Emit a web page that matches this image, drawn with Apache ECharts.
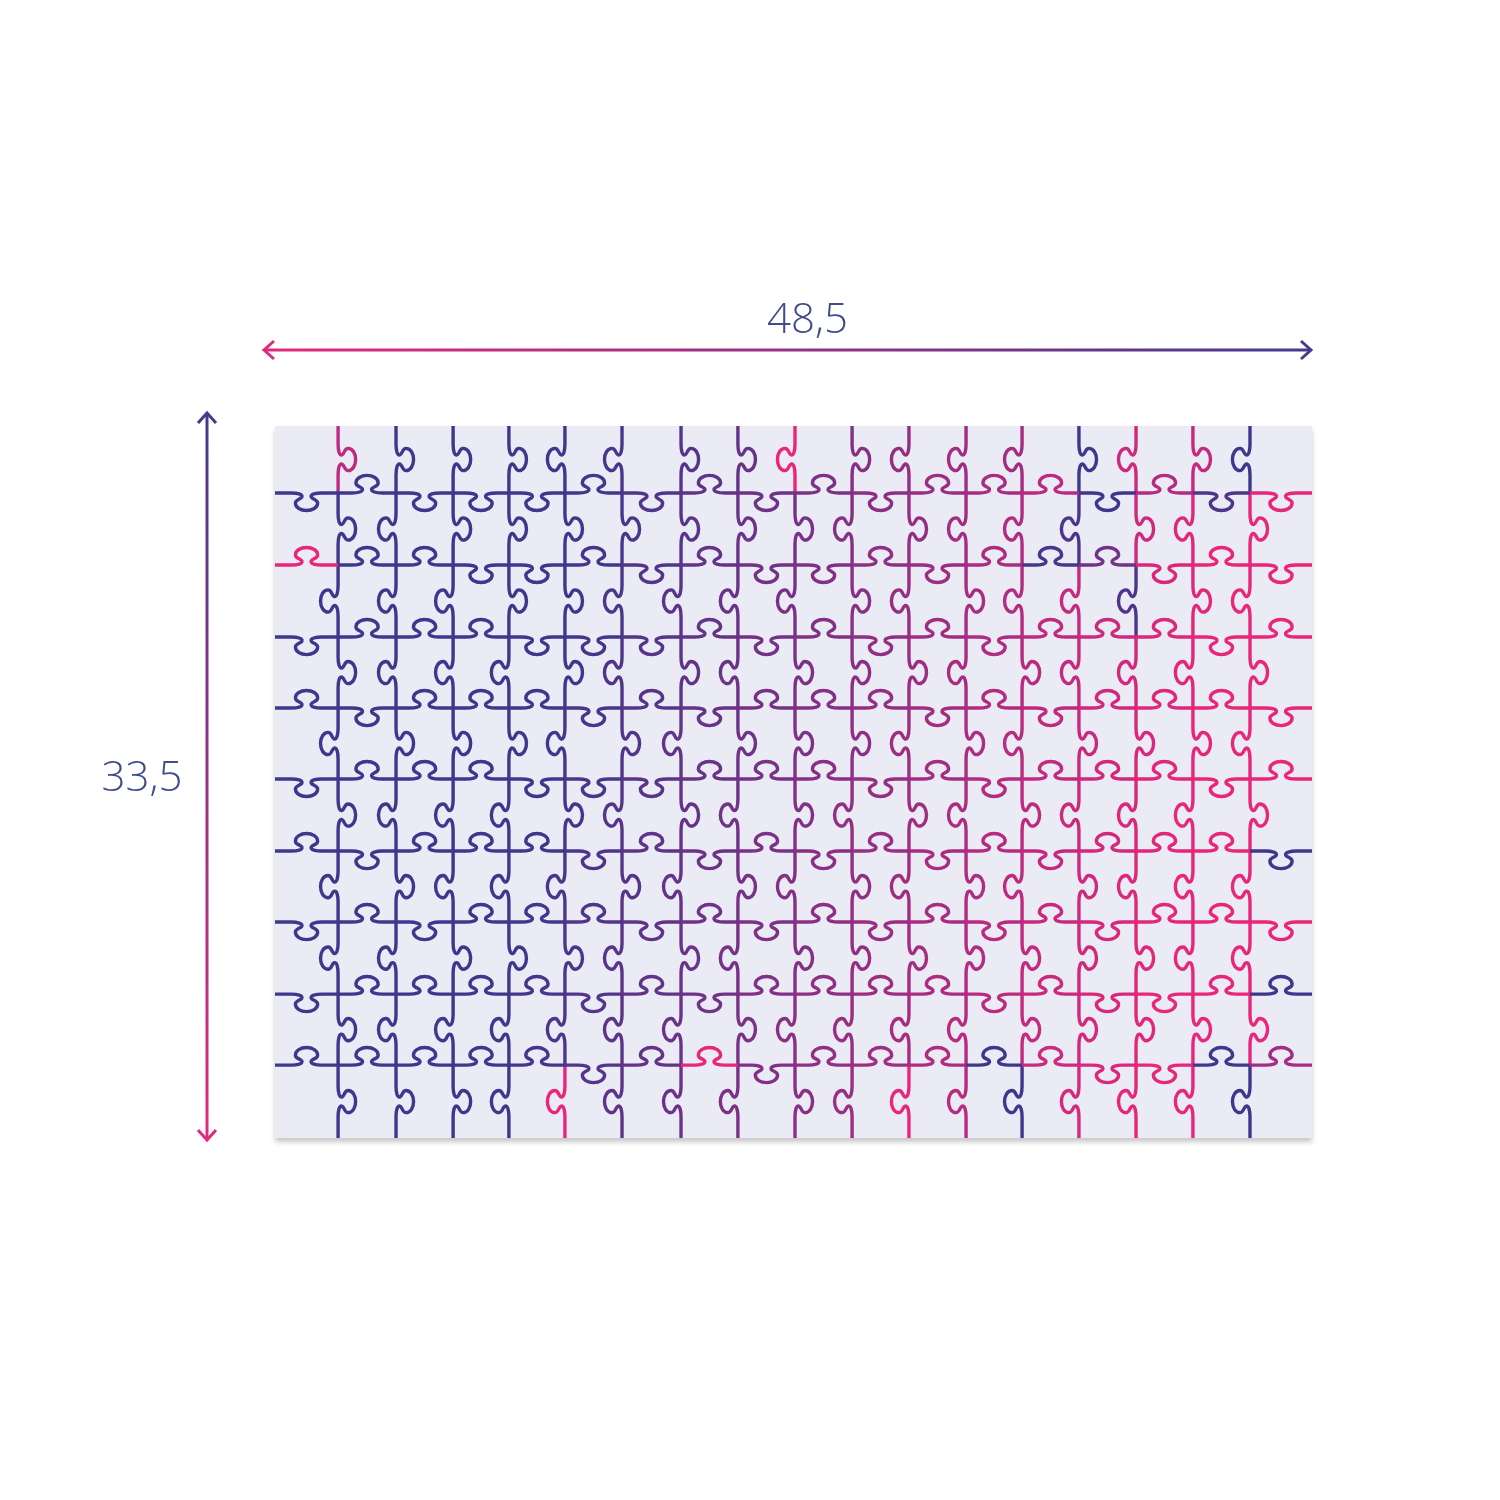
<!DOCTYPE html>
<html>
<head>
<meta charset="utf-8">
<title>Puzzle 48,5 × 33,5</title>
<script src="https://cdn.jsdelivr.net/npm/echarts@6/dist/echarts.min.js"></script>
<style>
  html, body { margin: 0; padding: 0; background: #ffffff; }
  #chart { width: 1500px; height: 1500px; }
</style>
</head>
<body>
<div id="chart"></div>
<script>
// ---------------- data ----------------
const WIDTH_CM = 48.5;
const HEIGHT_CM = 33.5;
const widthLabel = '48,5';
const heightLabel = '33,5';
const COLS = 18;
const ROWS = 10;

// positions of the cuts (cm from the left / top edge)
const xCuts = [2.95, 5.66, 8.33, 10.94, 13.56, 16.23, 18.99, 21.65, 24.32, 26.99, 29.65, 32.32, 34.94, 37.60, 40.27, 42.93, 45.60];
const yCuts = [3.15, 6.54, 9.93, 13.27, 16.61, 20.00, 23.34, 26.73, 30.07];

// vertical edges: one row per puzzle row, one value per vertical cut (+1 tab to the right, -1 to the left)
const vKnobs = [
  [ 1, 1, 1, 1,-1,-1, 1, 1,-1, 1,-1,-1,-1, 1,-1, 1,-1],
  [ 1,-1, 1, 1, 1, 1, 1, 1, 1,-1, 1,-1,-1,-1, 1,-1, 1],
  [-1,-1,-1, 1, 1,-1,-1,-1,-1, 1,-1, 1,-1,-1,-1, 1,-1],
  [ 1,-1,-1,-1, 1,-1, 1,-1, 1, 1, 1,-1, 1,-1,-1,-1, 1],
  [-1, 1, 1, 1,-1, 1,-1, 1, 1, 1,-1, 1,-1, 1, 1, 1,-1],
  [ 1,-1,-1,-1, 1,-1, 1,-1, 1,-1, 1,-1, 1,-1,-1,-1, 1],
  [-1, 1,-1,-1,-1, 1,-1, 1,-1, 1,-1, 1,-1, 1,-1,-1,-1],
  [-1,-1, 1, 1, 1,-1, 1,-1, 1, 1, 1, 1, 1, 1, 1,-1,-1],
  [ 1,-1,-1,-1,-1,-1,-1, 1,-1,-1,-1,-1, 1, 1, 1, 1, 1],
  [ 1, 1, 1,-1,-1,-1,-1,-1, 1,-1,-1,-1,-1,-1,-1,-1,-1]
];

// horizontal edges: one row per horizontal cut, one value per column (+1 tab down, -1 up)
const hKnobs = [
  [ 1,-1, 1, 1, 1,-1, 1,-1, 1,-1, 1,-1,-1,-1, 1,-1, 1, 1],
  [-1,-1,-1, 1, 1,-1, 1,-1, 1, 1,-1, 1,-1,-1,-1, 1,-1, 1],
  [ 1,-1,-1,-1, 1, 1, 1,-1, 1,-1, 1,-1, 1,-1,-1,-1, 1,-1],
  [-1, 1,-1,-1,-1, 1,-1, 1,-1,-1,-1, 1,-1, 1,-1,-1,-1, 1],
  [ 1,-1,-1,-1, 1, 1, 1,-1,-1,-1, 1,-1, 1,-1,-1,-1, 1,-1],
  [-1, 1,-1,-1,-1, 1,-1, 1,-1, 1,-1, 1,-1, 1,-1,-1,-1, 1],
  [ 1,-1, 1,-1,-1,-1, 1,-1, 1,-1, 1,-1, 1,-1, 1,-1,-1, 1],
  [ 1,-1,-1,-1,-1, 1,-1, 1,-1,-1,-1,-1, 1,-1, 1, 1,-1,-1],
  [-1,-1,-1,-1,-1, 1,-1,-1, 1,-1,-1,-1,-1,-1, 1, 1,-1,-1]
];

// edges whose colour departs from the blue→pink drift: [kind, row/line, index, mix 0=blue..1=pink]
const accents = [
  ['v', 0, 1, 0.75], ['v', 0, 9, 1], ['v', 0, 13, 0.6], ['v', 0, 14, 0], ['v', 0, 16, 0.8], ['v', 0, 17, 0],
  ['v', 1, 14, 0.1], ['v', 1, 17, 1], ['v', 2, 15, 0.1],
  ['v', 9, 5, 1], ['v', 9, 11, 1], ['v', 9, 13, 0], ['v', 9, 17, 0],
  ['h', 2, 0, 1], ['h', 1, 14, 0], ['h', 1, 15, 0.7], ['h', 1, 16, 0.1],
  ['h', 2, 13, 0.05], ['h', 2, 14, 0.3],
  ['h', 6, 17, 0], ['h', 8, 17, 0],
  ['h', 9, 7, 1], ['h', 9, 12, 0], ['h', 9, 16, 0], ['h', 9, 17, 0.6]
];

// ---------------- build series data ----------------
const xEdges = [0].concat(xCuts, [WIDTH_CM]);
const yEdges = [0].concat(yCuts, [HEIGHT_CM]);
function accentFor(kind, a, b) {
  for (const ac of accents) if (ac[0] === kind && ac[1] === a && ac[2] === b) return ac[3];
  return -1;
}
const edgeData = [];
for (let i = 0; i < ROWS; i++) {
  for (let j = 1; j < COLS; j++) {
    edgeData.push([0, xCuts[j - 1], yEdges[i], yEdges[i + 1], vKnobs[i][j - 1], accentFor('v', i, j)]);
  }
}
for (let k = 1; k < ROWS; k++) {
  for (let c = 0; c < COLS; c++) {
    edgeData.push([1, yCuts[k - 1], xEdges[c], xEdges[c + 1], hKnobs[k - 1][c], accentFor('h', k, c)]);
  }
}
const dimData = [[0, WIDTH_CM], [1, HEIGHT_CM]];

// ---------------- helpers ----------------
const BLUE = [62, 55, 140];
const PINK = [232, 38, 122];
function mix(t) {
  t = Math.max(0, Math.min(1, t));
  const c = BLUE.map((b, i) => Math.round(b + (PINK[i] - b) * t));
  return 'rgb(' + c.join(',') + ')';
}
// knob outline in local coords (a along edge, b outward), pixels
const KS = 1.17;
const KNOB = [
  ['M', -13, 0],
  ['C', -8, 0, -3, 1, -4, 3.5],
  ['C', -5, 5.5, -9.5, 5.5, -9.5, 8.5],
  ['C', -9.5, 12.5, -5, 15, 0, 15],
  ['C', 5, 15, 9.5, 12.5, 9.5, 8.5],
  ['C', 9.5, 5.5, 5, 5.5, 4, 3.5],
  ['C', 3, 1, 8, 0, 13, 0]
];

function renderEdge(params, api) {
  const kind = api.value(0), a = api.value(1), b0 = api.value(2), b1 = api.value(3);
  const dir = api.value(4), acc = api.value(5);
  let p0, p1;
  if (kind === 0) { p0 = api.coord([a, b0]); p1 = api.coord([a, b1]); }
  else { p0 = api.coord([b0, a]); p1 = api.coord([b1, a]); }
  const dx = p1[0] - p0[0], dy = p1[1] - p0[1];
  const L = Math.sqrt(dx * dx + dy * dy);
  const ux = dx / L, uy = dy / L;
  let nx, ny;
  if (kind === 0) { nx = dir; ny = 0; } else { nx = 0; ny = dir; }
  const mx = (p0[0] + p1[0]) / 2, my = (p0[1] + p1[1]) / 2;
  const P = (la, lb) => (mx + ux * la * KS + nx * lb * KS).toFixed(2) + ' ' + (my + uy * la * KS + ny * lb * KS).toFixed(2);
  let d = 'M' + p0[0].toFixed(2) + ' ' + p0[1].toFixed(2);
  for (const seg of KNOB) {
    if (seg[0] === 'M') d += ' L' + P(seg[1], seg[2]);
    else d += ' C' + P(seg[1], seg[2]) + ' ' + P(seg[3], seg[4]) + ' ' + P(seg[5], seg[6]);
  }
  d += ' L' + p1[0].toFixed(2) + ' ' + p1[1].toFixed(2);

  let t = acc;
  if (t < 0) {
    const g0 = api.coord([0, 0]), g1 = api.coord([WIDTH_CM, HEIGHT_CM]);
    const fx = (mx - g0[0]) / (g1[0] - g0[0]);
    const fy = (my - g0[1]) / (g1[1] - g0[1]);
    t = (fx - 0.275) * 1.6 + fy * 0.15 - 0.05;
  }
  return {
    type: 'path',
    silent: true,
    shape: { pathData: d },
    style: { stroke: mix(t), fill: 'none', lineWidth: 3.4, lineJoin: 'round', lineCap: 'butt' }
  };
}

const LABEL_COLOR = '#414c8c';
const ARROW_BLUE = 'rgb(70,58,140)';
const ARROW_PINK = 'rgb(226,42,124)';

function renderDim(params, api) {
  const kind = api.value(0), val = api.value(1);
  const g0 = api.coord([0, 0]);
  const children = [];
  if (kind === 0) {
    const p1 = api.coord([val, 0]);
    const y = g0[1] - 76, x0 = g0[0] - 11, x1 = p1[0] - 1;
    const grad = new echarts.graphic.LinearGradient(x0, y, x1, y, [
      { offset: 0, color: ARROW_PINK }, { offset: 1, color: ARROW_BLUE }], true);
    children.push({ type: 'line', shape: { x1: x0, y1: y, x2: x1, y2: y }, style: { stroke: grad, lineWidth: 3 } });
    children.push({ type: 'polyline', shape: { points: [[x0 + 10, y - 9], [x0, y], [x0 + 10, y + 9]] }, style: { stroke: ARROW_PINK, fill: 'none', lineWidth: 3, lineJoin: 'miter' } });
    children.push({ type: 'polyline', shape: { points: [[x1 - 10, y - 9], [x1, y], [x1 - 10, y + 9]] }, style: { stroke: ARROW_BLUE, fill: 'none', lineWidth: 3, lineJoin: 'miter' } });
    children.push({ type: 'text', style: { text: widthLabel, x: (x0 + x1) / 2 + 20, y: y - 29, fill: LABEL_COLOR,
      font: '300 42px "Open Sans"', textAlign: 'center', textVerticalAlign: 'middle', align: 'center', verticalAlign: 'middle' } });
  } else {
    const p1 = api.coord([0, val]);
    const x = g0[0] - 68, y0 = g0[1] - 13, y1 = p1[1] + 2;
    const grad = new echarts.graphic.LinearGradient(x, y0, x, y1, [
      { offset: 0, color: ARROW_BLUE }, { offset: 1, color: ARROW_PINK }], true);
    children.push({ type: 'line', shape: { x1: x, y1: y0, x2: x, y2: y1 }, style: { stroke: grad, lineWidth: 3 } });
    children.push({ type: 'polyline', shape: { points: [[x - 9, y0 + 10], [x, y0], [x + 9, y0 + 10]] }, style: { stroke: ARROW_BLUE, fill: 'none', lineWidth: 3, lineJoin: 'miter' } });
    children.push({ type: 'polyline', shape: { points: [[x - 9, y1 - 10], [x, y1], [x + 9, y1 - 10]] }, style: { stroke: ARROW_PINK, fill: 'none', lineWidth: 3, lineJoin: 'miter' } });
    children.push({ type: 'text', style: { text: heightLabel, x: x - 65, y: (y0 + y1) / 2 + 3, fill: LABEL_COLOR,
      font: '300 42px "Open Sans"', textAlign: 'center', textVerticalAlign: 'middle', align: 'center', verticalAlign: 'middle' } });
  }
  return { type: 'group', children: children };
}

// ---------------- chart ----------------
const chart = echarts.init(document.getElementById('chart'), null, { renderer: 'canvas' });
chart.setOption({
  backgroundColor: '#ffffff',
  animation: false,
  grid: {
    left: 275, top: 426, width: 1037, height: 712,
    show: true, backgroundColor: '#ebebf6', borderWidth: 0,
    shadowColor: 'rgba(0,0,0,0.22)', shadowBlur: 5, shadowOffsetY: 4
  },
  xAxis: { type: 'value', min: 0, max: WIDTH_CM, show: false },
  yAxis: { type: 'value', min: 0, max: HEIGHT_CM, inverse: true, show: false },
  series: [
    { type: 'custom', name: 'cuts', renderItem: renderEdge, data: edgeData, clip: false, silent: true, encode: { x: 1, y: 2 } },
    { type: 'custom', name: 'dimensions', renderItem: renderDim, data: dimData, clip: false, silent: true, encode: { x: 1, y: 1 } }
  ]
});
</script>
</body>
</html>
